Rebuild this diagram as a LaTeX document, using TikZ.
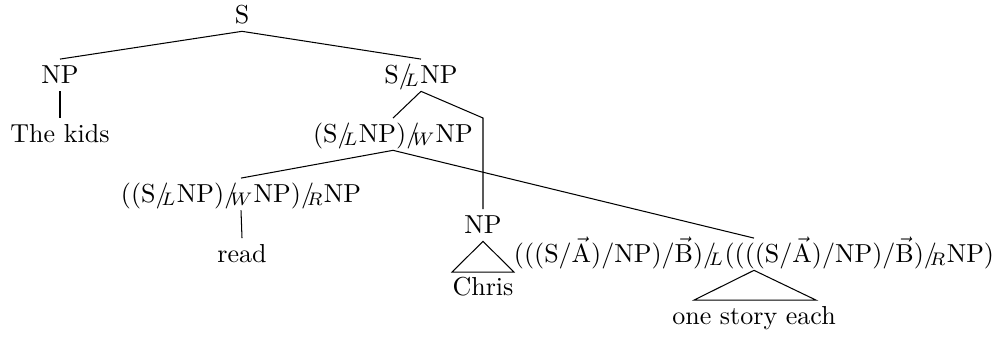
\documentclass[tikz,border=0pt]{standalone}
\usetikzlibrary{calc}
\newcommand{\msl}[1]{\ensuremath{/\mkern-5mu{}_{#1}}}
\newcommand{\va}{\ensuremath{\vec{\mathrm{A}}}}
\newcommand{\vb}{\ensuremath{\vec{\mathrm{B}}}}
\begin{document}
\begin{tikzpicture}[x=0.3846pt,y=-0.3846pt,
  lbl/.style={anchor=base, inner xsep=0pt, inner ysep=2pt, text height=7pt, text depth=1pt},
  branch/.style={line width=0.4pt}]
\useasboundingbox (0,0) rectangle (1002,337);
% nodes
\node[lbl] (s)     at (242,23)  {S};
\node[lbl] (np1)   at (60,83)   {NP};
\node[lbl] (kids)  at (60,142)  {The kids};
\node[lbl] (slnp)  at (421,83)  {S\msl{L}NP};
\node[lbl] (wnp)   at (393,142) {(S\msl{L}NP)\msl{W}NP};
\node[lbl] (rnp)   at (241,202) {((S\msl{L}NP)\msl{W}NP)\msl{R}NP};
\node[lbl] (read)  at (242,262) {read};
\node[lbl] (np2)   at (483,233) {NP};
\node[lbl] (chris) at (483,295) {Chris};
\node[lbl] (long)  at (754,262) {(((S/\va)/NP)/\vb)\msl{L}((((S/\va)/NP)/\vb)\msl{R}NP)};
\node[lbl] (one)   at (754,324) {one story each};
\coordinate (bend) at (483,118);
% edges
\draw[branch] (s.south) -- (np1.north);
\draw[branch] (s.south) -- (slnp.north);
\draw[branch] (np1.south) -- (kids.north);
\draw[branch] (slnp.south) -- (wnp.north);
\draw[branch] (slnp.south) -- (bend) -- (np2.north);
\draw[branch] (wnp.south) -- (rnp.north);
\draw[branch] (wnp.south) -- (long.north);
\draw[branch] (rnp.south) -- (read.north);
% roofs
\draw[branch] (np2.south) -- ($(chris.north west)+(0,1)$) -- ($(chris.north east)+(0,1)$) -- cycle;
\draw[branch] (long.south) -- ($(one.north)+(-60,0)$) -- ($(one.north)+(62,0)$) -- cycle;
\end{tikzpicture}
\end{document}
